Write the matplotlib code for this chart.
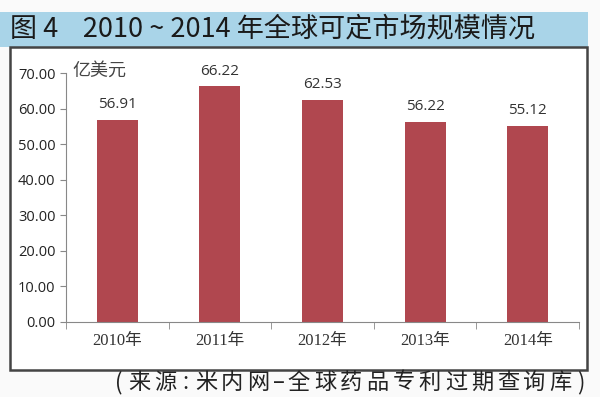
import matplotlib.pyplot as plt
from matplotlib.patches import Rectangle

years = ["2010年", "2011年", "2012年", "2013年", "2014年"]
values = [56.91, 66.22, 62.53, 56.22, 55.12]
yticks = [0, 10, 20, 30, 40, 50, 60, 70]
title = "图 4    2010 ~ 2014 年全球可定市场规模情况"
source = "(来源:米内网–全球药品专利过期查询库)"

plt.rcParams['font.family'] = ['Noto Sans CJK SC', 'DejaVu Sans']

fig = plt.figure(figsize=(6, 3.97), dpi=100)
fig.patch.set_facecolor('#fafafa')

# title band
fig.patches.append(Rectangle((0, 0.882), 0.98, 0.088, transform=fig.transFigure,
                             facecolor='#a9d4e8', edgecolor='none', zorder=0))
fig.text(0.017, 0.926, title, fontsize=19.5,
         va='center', ha='left', color='#1a1a1a')

# chart frame
fig.patches.append(Rectangle((0.017, 0.068), 0.962, 0.814, transform=fig.transFigure,
                             facecolor='white', edgecolor='#444444', linewidth=1.8, zorder=0))

ax = fig.add_axes([0.11, 0.189, 0.855, 0.627])
ax.set_zorder(2)
ax.set_facecolor('none')
x = range(len(years))
ax.bar(x, values, width=0.4, color='#b0474f')
for i, v in enumerate(values):
    ax.text(i, v + 2.2, f"{v:.2f}", ha='center', va='bottom', fontsize=11, color='#333333',
            family=['Open Sans', 'DejaVu Sans'])

ax.set_xlim(-0.5, len(years) - 0.5)
ax.set_ylim(0, 70)
ax.set_yticks(yticks)
ax.set_yticklabels([f"{t:.2f}" for t in yticks], fontsize=10.5, color='#222222',
                   family=['Open Sans', 'DejaVu Sans'])
ax.set_xticks(list(x))
ax.set_xticklabels(years, fontsize=12, color='#333333',
                   family=['Liberation Serif', 'Noto Sans CJK SC'])
ax.tick_params(axis='x', length=0, pad=8)
ax.set_xticks([i - 0.5 for i in range(len(years) + 1)], minor=True)
ax.tick_params(axis='x', which='minor', length=5, color='#888888')
ax.tick_params(axis='y', length=4, color='#888888')
for s in ['top', 'right']:
    ax.spines[s].set_visible(False)
ax.spines['left'].set_color('#888888')
ax.spines['bottom'].set_color('#888888')

ax.text(0.012, 1.01, "亿美元", transform=ax.transAxes, fontsize=13, color='#444444',
        va='center', ha='left')

# source line, spaced out character by character
weights = [0.55 if c in "():–" else 1.0 for c in source]
unit = (588 - 112) / sum(weights)
pos = 112
for c, w in zip(source, weights):
    fig.text((pos + unit * w / 2) / 600, 0.037, c, fontsize=16, fontweight='medium',
             ha='center', va='center', color='#222222')
    pos += unit * w

fig.savefig('out.png', dpi=100, facecolor=fig.get_facecolor())
